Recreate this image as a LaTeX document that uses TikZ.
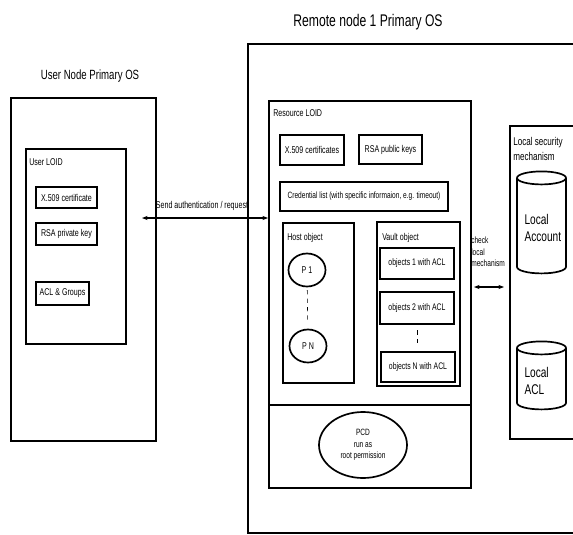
\documentclass[tikz,border=0pt]{standalone}
\usepackage{fontspec}
\setmainfont{Liberation Sans}[FakeStretch=0.72]
\usetikzlibrary{shapes.geometric,arrows.meta}
\newdimen\pxu \pxu=0.025cm

\begin{document}
\begin{tikzpicture}[x=0.025cm,y=-0.025cm,
    frame/.style={draw,line width=1.2pt,inner sep=0pt,anchor=north west},
    bnode/.style={draw,line width=1.2pt,inner sep=1pt,font=\fontsize{7}{8}\selectfont},
    lbl/.style={anchor=west,inner sep=0pt,font=\fontsize{7}{8}\selectfont},
    pnode/.style={draw,ellipse,line width=1.2pt,minimum width=37\pxu,minimum height=33\pxu,inner sep=0pt,font=\fontsize{7}{8}\selectfont},
    cyl/.style={draw,cylinder,shape border rotate=90,aspect=0.3,line width=1.2pt,minimum width=49\pxu,minimum height=102\pxu,
        align=left,text width=34\pxu,font=\fontsize{10}{12}\selectfont},
    arr/.style={{Stealth[length=4pt,width=3pt]}-{Stealth[length=4pt,width=3pt]},line width=0.9pt}]
    \useasboundingbox (0,0) rectangle (573,534);

    % user side
    \node[font=\fontsize{9.5}{11}\selectfont] (usertitle) at (90,76) {User Node Primary OS};
    \node[frame,minimum width=145\pxu,minimum height=343\pxu] (userOS) at (10,97) {};
    \node[frame,minimum width=100\pxu,minimum height=195\pxu] (userLOID) at (25,148) {};
    \node[lbl] (userLOIDlbl) at (29,162) {User LOID};
    \node[bnode,minimum width=61\pxu,minimum height=21\pxu] (ucert) at (66.5,197.5) {X.509 certificate};
    \node[bnode,minimum width=61\pxu,minimum height=22\pxu] (ursa) at (66.5,234) {RSA private key};
    \node[bnode,minimum width=53\pxu,minimum height=23\pxu] (uacl) at (62.5,293.5) {ACL \& Groups};

    % remote side
    \node[font=\fontsize{12}{14}\selectfont] (remotetitle) at (368,22) {Remote node 1 Primary OS};
    \node[frame,minimum width=360\pxu,minimum height=489\pxu] (remoteOS) at (247,43) {};
    \node[frame,minimum width=202\pxu,minimum height=387\pxu] (resLOID) at (268,100) {};
    \node[lbl] (resLOIDlbl) at (273,113) {Resource LOID};
    \draw[line width=1.5pt] (resLOID.west |- 0,405) -- (resLOID.east |- 0,405);
    \node[bnode,minimum width=64\pxu,minimum height=30\pxu] (rcert) at (312,150) {X.509 certificates};
    \node[bnode,minimum width=63\pxu,minimum height=29\pxu] (rrsa) at (390.5,149.5) {RSA public keys};
    \node[bnode,minimum width=168\pxu,minimum height=29\pxu,font=\fontsize{6.5}{8}\selectfont] (cred) at (364,196.5)
        {Credential list (with specific informaion, e.g. timeout)};

    % host object
    \node[frame,minimum width=71\pxu,minimum height=160\pxu] (host) at (282,222) {};
    \node[lbl] (hostlbl) at (287,238) {Host object};
    \node[pnode] (p1) at (307,270) {P 1};
    \node[pnode] (pn) at (308,346) {P N};
    \draw[dashed,shorten <=2pt,shorten >=6pt] (p1) -- (pn);

    % vault object
    \node[frame,minimum width=83\pxu,minimum height=164\pxu] (vault) at (376,221) {};
    \node[lbl] (vaultlbl) at (382,238) {Vault object};
    \node[bnode,minimum width=74\pxu,minimum height=31\pxu,font=\fontsize{6.8}{8}\selectfont] (obj1) at (417,263.5) {objects 1 with ACL};
    \node[bnode,minimum width=74\pxu,minimum height=32\pxu,font=\fontsize{6.8}{8}\selectfont] (obj2) at (417,308) {objects 2 with ACL};
    \node[bnode,minimum width=74\pxu,minimum height=30\pxu,font=\fontsize{6.8}{8}\selectfont] (objn) at (418,367) {objects N with ACL};
    \draw[dashed,shorten <=4pt,shorten >=6pt] (obj2) -- (obj2 |- objn.north);

    % root process
    \node[draw,ellipse,line width=1.2pt,minimum width=88\pxu,minimum height=66\pxu,inner sep=0pt,align=center,
        font=\fontsize{6.5}{8}\selectfont] (pcd) at (363,445) {PCD\\run as\\root permission};

    % local security mechanism
    \node[frame,minimum width=100\pxu,minimum height=313\pxu] (localsec) at (509,125) {};
    \node[anchor=north west,inner sep=0pt,align=left,font=\fontsize{8}{11}\selectfont] (localseclbl) at (513,137)
        {Local security\\mechanism};
    \node[cyl] (acct) at (541.5,228) {Local\\Account};
    \node[cyl,minimum height=68\pxu] (lacl) at (541.5,381) {Local\\ACL};

    % connectors
    \coordinate (sendL) at (142,218);
    \draw[arr] (sendL) -- (sendL -| resLOID.west);
    \node[font=\fontsize{7}{8}\selectfont] (sendlbl) at (202,206) {Send authentication / request};
    \coordinate (chkL) at (474,287);
    \coordinate (chkR) at (504,287);
    \draw[arr,line width=1.3pt] (chkL) -- (chkR);
    \node[anchor=north west,inner sep=0pt,align=left,font=\fontsize{6.5}{8}\selectfont] (chklbl) at (471,237)
        {check\\local\\mechanism};
\end{tikzpicture}
\end{document}
